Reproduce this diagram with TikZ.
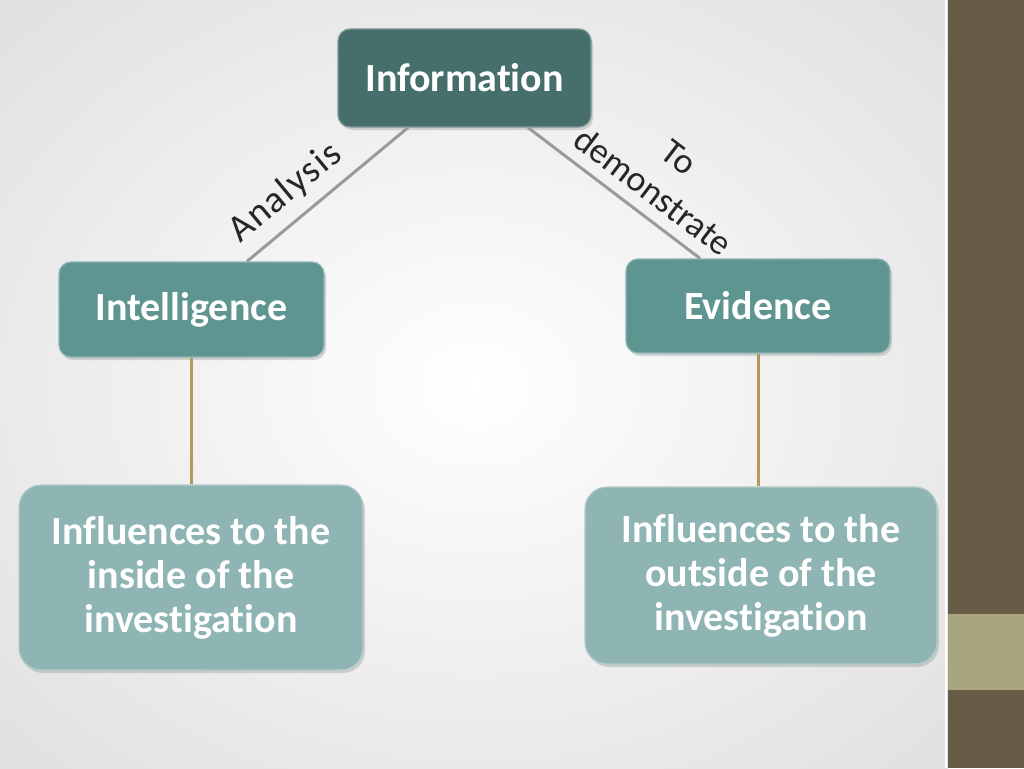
\documentclass[tikz,border=0pt]{standalone}
\usepackage{fontspec}
\setmainfont[Ligatures=NoCommon]{Carlito}
\newfontfamily\spaced[Ligatures=NoCommon, LetterSpace=4]{Carlito}
\usetikzlibrary{shadows}
\definecolor{infoteal}{HTML}{466F6B}
\definecolor{midteal}{HTML}{5F9591}
\definecolor{paleteal}{HTML}{8EB5B3}
\definecolor{strip}{HTML}{675D46}
\definecolor{band}{HTML}{A8A67F}
\definecolor{stem}{HTML}{B8975E}
\definecolor{edge}{HTML}{9A9A9A}
\definecolor{ink}{HTML}{262626}
\begin{document}
\begin{tikzpicture}[x=1pt, y=-1pt,
    box/.style={fill=#1, draw=#1!70!white, line width=1.2pt, rounded corners=12pt, text=white,
      align=center, font=\bfseries\fontsize{40}{44}\selectfont,
      drop shadow={shadow xshift=2pt, shadow yshift=-3pt, opacity=.3}},
    tag/.style={text=ink, font=\fontsize{36}{43}\selectfont, sloped, align=center}]
  \useasboundingbox (0,0) rectangle (1024,768);
  \begin{scope}
    \clip (0,0) rectangle (948,768);
    \shade[inner color=white, middle color=white, outer color=black!12] (-200,-150) rectangle (1150,920);
  \end{scope}
  \fill[strip] (948,0) rectangle (1024,768);
  \fill[band] (948,614) rectangle (1024,690);
  \draw[white, line width=1.5pt] (946,0) -- (946,768);

  \node[box=infoteal, minimum width=253pt, minimum height=98pt] (info) at (464.5,78) {Information};
  \node[box=midteal, minimum width=265pt, minimum height=95pt] (intel) at (191.5,309.5) {Intelligence};
  \node[box=midteal, minimum width=264pt, minimum height=94pt] (evid) at (758,306) {Evidence};
  \node[box=paleteal, rounded corners=22pt, minimum width=344pt, minimum height=185pt] (inside) at (191,577.5)
    {Influences to the\\inside of the\\investigation};
  \node[box=paleteal, rounded corners=22pt, minimum width=352pt, minimum height=177pt] (outside) at (761,575.5)
    {Influences to the\\outside of the\\investigation};

  \draw[edge, line width=3pt] ([xshift=-56.5pt]info.south) -- node[tag, pos=.65, above=7pt] {\spaced\fontsize{38}{43}\selectfont Analysis} ([xshift=55.5pt]intel.north);
  \draw[edge, line width=3pt] ([xshift=63.5pt]info.south) -- node[tag, pos=.64, above=8pt] {To\\demonstrate} ([xshift=-58pt]evid.north);
  \draw[stem, line width=3pt] (intel.south) -- (intel.south |- inside.north);
  \draw[stem, line width=3pt] (evid.south) -- (evid.south |- outside.north);
\end{tikzpicture}
\end{document}
